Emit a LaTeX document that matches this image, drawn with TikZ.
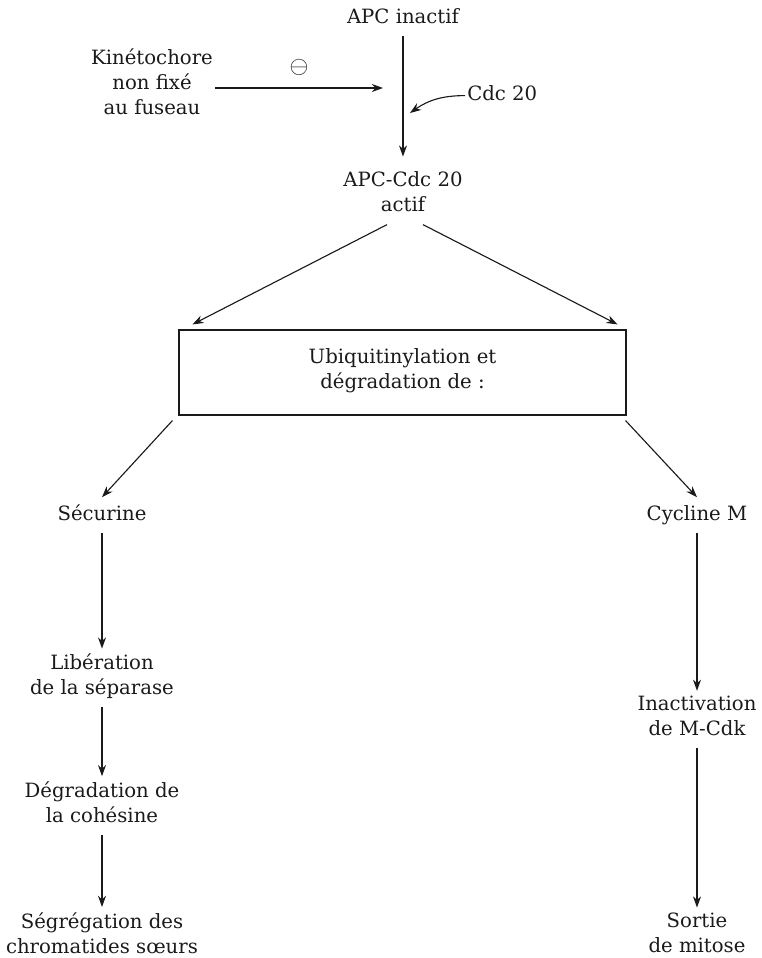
\documentclass[tikz,border=0pt]{standalone}
\usepackage{fontspec}
\setmainfont{DejaVu Serif}
\usetikzlibrary{arrows.meta}
\definecolor{inkgray}{HTML}{1A1A1A}

\begin{document}
\begin{tikzpicture}[
  txt/.style={align=center, inner xsep=0.05cm, inner ysep=0.125cm, text=inkgray,
    font=\fontsize{14}{17.8}\selectfont,
    execute at begin node=\strut, execute at end node=\strut},
  box/.style={txt, draw=inkgray, line width=0.8pt, minimum width=11.175cm, minimum height=2.125cm},
  arrow/.style={-{Stealth[length=0.28cm, width=0.2cm]}, draw=inkgray, line width=0.8pt}
]
\useasboundingbox (0,0) rectangle (19.05,-23.95);

% Activation of APC
\node[txt] (inact) at (10.075,-0.45) {APC inactif};
\node[txt] (kineto) at (3.8,-2.125) {Kinétochore\\non fixé\\au fuseau};
\node[txt, anchor=west] (cdc) at (11.625,-2.39) {Cdc 20};
\node[txt] (apcc) at (10.075,-4.89) {APC-Cdc 20\\actif};
\coordinate (inhib) at (9.575,-2.2);
\coordinate (cdcjoin) at (10.25,-2.825);

\draw[arrow, shorten >=0.25cm] (inact) -- (apcc);
\draw[arrow] (kineto.east |- inhib) -- node[above=0.3cm, inner sep=0pt, text=inkgray,
  font=\fontsize{19}{19}\selectfont] {$\ominus$} (inhib);
\draw[arrow] (cdc.west) to[out=180, in=35] (cdcjoin);

% Ubiquitinylation
\node[box] (ubiq) at (10.0625,-9.3125) {Ubiquitinylation et\\dégradation de :};

\draw[arrow] ([xshift=-0.4cm]apcc.south) -- ([shift={(0.35,0.125)}]ubiq.north west);
\draw[arrow] ([xshift=0.5cm]apcc.south) -- ([shift={(-0.225,0.125)}]ubiq.north east);

% Securine branch
\node[txt] (secur) at (2.55,-12.875) {Sécurine};
\node[txt] (liber) at (2.55,-16.95) {Libération\\de la séparase};
\node[txt] (degrad) at (2.55,-20.14) {Dégradation de\\la cohésine};
\node[txt] (segreg) at (2.55,-23.41) {Ségrégation des\\chromatides sœurs};

\draw[arrow] ([shift={(-0.15,-0.125)}]ubiq.south west) -- (secur.north);
\draw[arrow] (secur) -- (liber);
\draw[arrow] (liber) -- (degrad);
\draw[arrow] (degrad) -- (segreg);

% Cycline branch
\node[txt] (cycl) at (17.425,-12.875) {Cycline M};
\node[txt] (inactiv) at (17.425,-17.99) {Inactivation\\de M-Cdk};
\node[txt] (sortie) at (17.425,-23.41) {Sortie\\de mitose};

\draw[arrow] ([shift={(-0.025,-0.125)}]ubiq.south east) -- (cycl.north);
\draw[arrow] (cycl) -- (inactiv);
\draw[arrow] (inactiv) -- (sortie);
\end{tikzpicture}
\end{document}
